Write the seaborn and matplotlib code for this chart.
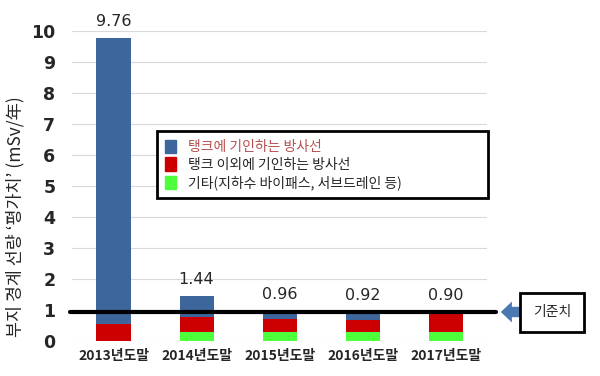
import matplotlib
matplotlib.use('Agg')
import matplotlib.pyplot as plt
import seaborn as sns
import numpy as np
from matplotlib.patches import Patch

# 데이터
years = ['2013년도말', '2014년도말', '2015년도말', '2016년도말', '2017년도말']
etc_vals = [0.0, 0.30, 0.30, 0.30, 0.30]      # 기타(지하수 바이패스, 서브드레인 등)
other_vals = [0.55, 0.48, 0.42, 0.38, 0.60]   # 탱크 이외에 기인하는 방사선
tank_vals = [9.21, 0.66, 0.24, 0.24, 0.00]    # 탱크에 기인하는 방사선
total_labels = ['9.76', '1.44', '0.96', '0.92', '0.90']
ref_value = 0.92

sns.set_style('whitegrid')
plt.rcParams['font.family'] = ['Noto Sans CJK KR', 'DejaVu Sans']

c_tank = '#3d679c'
c_other = '#cc0000'
c_etc = '#4dff3a'

etc = np.array(etc_vals)
other = np.array(other_vals)
tank = np.array(tank_vals)

fig = plt.figure(figsize=(6, 3.76), dpi=100)
ax = fig.add_axes([0.12, 0.093, 0.692, 0.825])

# 누적 막대 (뒤에서부터 덮어 그리기)
for vals, col in [(etc + other + tank, c_tank), (etc + other, c_other), (etc, c_etc)]:
    sns.barplot(x=years, y=vals, color=col, width=0.41, ax=ax, saturation=1, linewidth=0)

ax.set_ylim(0, 10)
ax.set_xlim(-0.5, 4.5)
ax.set_yticks(range(0, 11))
for s in ax.spines.values():
    s.set_visible(False)
ax.grid(axis='y', color='#d9d9d9', lw=0.8)
ax.grid(axis='x', visible=False)
ax.tick_params(axis='y', labelsize=12.5, pad=12, length=0)
ax.tick_params(axis='x', labelsize=10, pad=6, length=0)
for t in ax.get_yticklabels():
    t.set_fontweight('bold')
    t.set_family('DejaVu Sans')
for t in ax.get_xticklabels():
    t.set_fontweight('bold')
ax.set_xlabel('')
ax.set_ylabel('부지 경계 선량 \u2018평가치\u2019 (mSv/年)', fontsize=12.5)
ax.yaxis.set_label_coords(-0.115, 0.40)

# 합계 라벨
totals = etc + other + tank
for i, lab in enumerate(total_labels):
    ax.annotate(lab, (i, totals[i]), xytext=(0, 7), textcoords='offset points',
                ha='center', va='bottom', fontsize=11.5, family='DejaVu Sans')

# 기준치 선
ax.axhline(ref_value, xmin=-0.005, xmax=1.02, color='black', lw=3, clip_on=False, zorder=5)

# 화살표 + 기준치 박스
yref = 1 - 312 / 376
ax.annotate('', xy=(0.83, yref), xytext=(0.875, yref), xycoords='figure fraction',
            arrowprops=dict(arrowstyle='simple,head_width=1.5,head_length=0.8,tail_width=0.75',
                            color='#4a78b0', lw=0))
fig.text(0.92, yref, '기준치', ha='center', va='center', fontsize=10,
         bbox=dict(boxstyle='square,pad=0.9', fc='white', ec='black', lw=2))

# 범례
handles = [Patch(color=c_tank, label='탱크에 기인하는 방사선'),
           Patch(color=c_other, label='탱크 이외에 기인하는 방사선'),
           Patch(color=c_etc, label='기타(지하수 바이패스, 서브드레인 등)')]
leg = fig.legend(handles=handles, loc='upper left',
                 bbox_to_anchor=(0.25, 1 - 128 / 376, 0.575, 0.01), mode='expand',
                 fancybox=False, edgecolor='black', framealpha=1, fontsize=10,
                 handlelength=0.8, handleheight=1.1, labelspacing=0.25,
                 borderpad=0.6, handletextpad=0.8)
leg.get_frame().set_linewidth(2)
leg.get_texts()[0].set_color('#b5504f')

plt.savefig('out.png', dpi=100)
